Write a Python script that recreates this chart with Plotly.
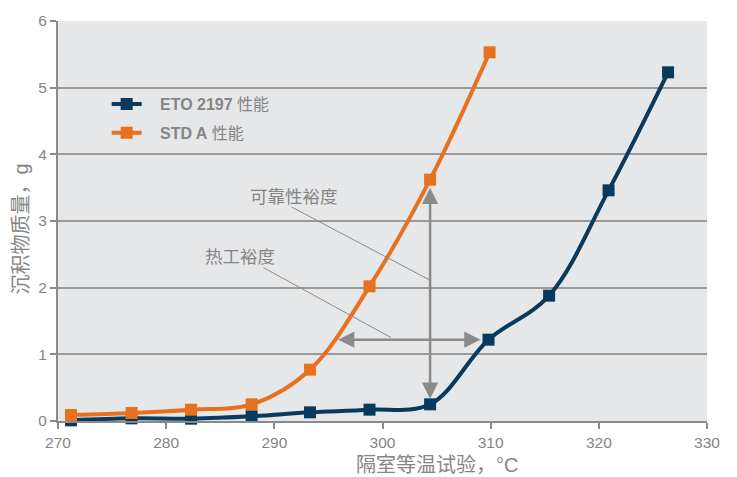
import plotly.graph_objects as go

temps_eto = [271.2, 276.8, 282.3, 287.9, 293.3, 298.8, 304.4, 309.8, 315.4, 320.9, 326.4]
mass_eto = [0.01, 0.04, 0.035, 0.07, 0.13, 0.17, 0.25, 1.22, 1.88, 3.46, 5.23]
temps_std = [271.2, 276.8, 282.3, 287.9, 293.3, 298.8, 304.4, 309.9]
mass_std = [0.09, 0.12, 0.17, 0.25, 0.77, 2.02, 3.62, 5.53]

PAD = "\u00a0\u00a0\u00a0"
name_eto = PAD + "<b>ETO 2197</b> 性能"
name_std = PAD + "<b>STD A</b> 性能"
x_title = "隔室等温试验，°C"
y_title = "沉积物质量，g"
label_rel = "可靠性裕度"
label_thermal = "热工裕度"

BLUE = "#083a5e"
ORANGE = "#e8711f"
GRAY = "#8a8a8a"
TXT = "#858585"
FONT = "Liberation Sans, Noto Sans CJK SC, sans-serif"

fig = go.Figure()
fig.add_trace(go.Scatter(x=temps_eto, y=mass_eto, name=name_eto, mode="lines+markers",
                         legendgroup="a",
                         line=dict(color=BLUE, width=4, shape="spline", smoothing=1),
                         marker=dict(symbol="square", size=12, color=BLUE), cliponaxis=False))
fig.add_trace(go.Scatter(x=temps_std, y=mass_std, name=name_std, mode="lines+markers",
                         legendgroup="b",
                         line=dict(color=ORANGE, width=4, shape="spline", smoothing=1),
                         marker=dict(symbol="square", size=12, color=ORANGE), cliponaxis=False))

# double arrows
arrow_common = dict(text="", showarrow=True, axref="x", ayref="y", xref="x", yref="y",
                    arrowside="end+start", arrowhead=2, startarrowhead=2,
                    arrowsize=1.3, startarrowsize=1.3, arrowwidth=2.5, arrowcolor=GRAY)
fig.add_annotation(x=304.4, y=3.5, ax=304.4, ay=0.31, **arrow_common)
fig.add_annotation(x=295.9, y=1.22, ax=309.2, ay=1.22, **arrow_common)

# leader lines
fig.add_shape(type="line", x0=291.6, y0=3.21, x1=304.3, y1=2.12, line=dict(color=GRAY, width=1))
fig.add_shape(type="line", x0=289.0, y0=2.30, x1=300.8, y1=1.25, line=dict(color=GRAY, width=1))

fig.add_annotation(x=291.8, y=3.36, text=label_rel, showarrow=False,
                   font=dict(size=17.5, color=TXT, family=FONT))
fig.add_annotation(x=286.8, y=2.46, text=label_thermal, showarrow=False,
                   font=dict(size=17.5, color=TXT, family=FONT))

# axis titles as annotations for exact placement
fig.add_annotation(xref="paper", yref="paper", x=0.584, y=0, yshift=-44, xanchor="center",
                   yanchor="middle", text=x_title,
                   showarrow=False, font=dict(size=20, color=TXT, family=FONT))
fig.add_annotation(xref="paper", yref="paper", x=0, xshift=-37, y=0.479, xanchor="center",
                   yanchor="middle", text=y_title,
                   textangle=-90, showarrow=False, font=dict(size=20, color=TXT, family=FONT))

fig.update_layout(
    width=737, height=477,
    margin=dict(l=58, r=30, t=18, b=56),
    paper_bgcolor="white", plot_bgcolor="#e6e7e9",
    font=dict(family=FONT, color=TXT, size=15),
    legend=dict(x=0.075, y=0.835, xanchor="left", yanchor="top", bgcolor="rgba(0,0,0,0)",
                font=dict(size=16, color=TXT), tracegroupgap=5),
    xaxis=dict(range=[270, 330], dtick=10, showgrid=False, showline=True, linecolor=GRAY,
               linewidth=2, ticks="outside", ticklen=6, tickcolor=GRAY, tickwidth=2,
               zeroline=False, tickfont=dict(size=15.5, color=TXT)),
    yaxis=dict(range=[0, 6], dtick=1, showgrid=True, gridcolor="#9a9a9a", gridwidth=1.5,
               showline=True, linecolor=GRAY, linewidth=2, ticks="outside", ticklen=6,
               tickcolor=GRAY, tickwidth=2, zeroline=False,
               tickfont=dict(size=15.5, color=TXT)),
)

fig.write_html("out.html", config={"displayModeBar": False},
               post_script="document.body.style.margin='0';")
